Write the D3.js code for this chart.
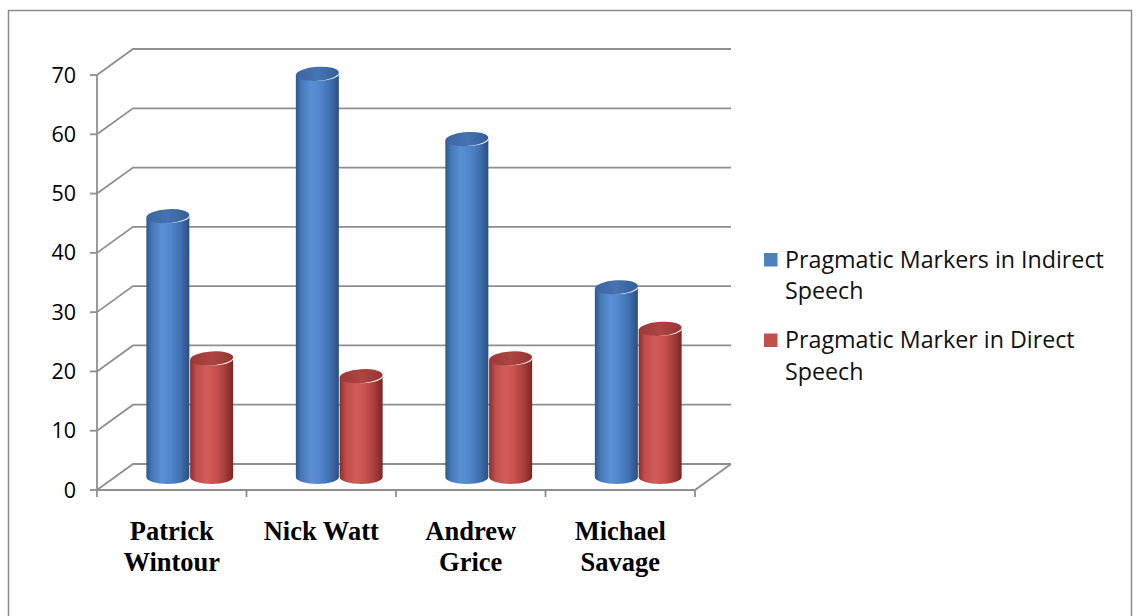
<!DOCTYPE html>
<html><head><meta charset="utf-8">
<script src="https://cdn.jsdelivr.net/npm/d3@7"></script>
<style>html,body{margin:0;padding:0;background:#fff;}</style>
</head><body>
<svg id="chart" width="1139" height="616"></svg>
<script>
const categories = [["Patrick","Wintour"],["Nick Watt"],["Andrew","Grice"],["Michael","Savage"]];
const seriesNames = ["Pragmatic Markers in Indirect Speech","Pragmatic Marker in Direct Speech"];
const legendLines = [["Pragmatic Markers in Indirect","Speech"],["Pragmatic Marker in Direct","Speech"]];
const indirectValues = [44, 68, 57, 32];
const directValues = [20, 17, 20, 25];
const yTicks = [0,10,20,30,40,50,60,70];

(function(){
const svg = d3.select("#chart");
const plotLeft = 97, plotRight = 695, plotBottom = 490, plotTop = 75;
const depth = {dx: 36, dy: -26};
const f = 0.5;
const gridColor = "#8f8f8f";
const sansFont = "'Open Sans', 'Noto Sans', sans-serif";

svg.append("rect").attr("x",8.5).attr("y",10.5).attr("width",1123).attr("height",640)
  .attr("fill","none").attr("stroke","#8a8a8a").attr("stroke-width",1.5);

const y = d3.scaleLinear().domain([0,70]).range([plotBottom, plotTop]);
const keys = categories.map(c => c.join(" "));
const x = d3.scaleBand().domain(keys).range([plotLeft, plotRight]);
const xs = d3.scaleBand().domain(seriesNames).range([x.bandwidth()*0.207, x.bandwidth()*0.793]);

const g = svg.append("g");
yTicks.forEach(v => {
  const yy = y(v);
  g.append("path")
    .attr("d", `M${plotLeft},${yy} L${plotLeft+depth.dx},${yy+depth.dy} L${plotRight+depth.dx},${yy+depth.dy}`)
    .attr("fill","none").attr("stroke",gridColor).attr("stroke-width",1.8);
  g.append("line").attr("x1",plotLeft-7).attr("x2",plotLeft).attr("y1",yy).attr("y2",yy)
    .attr("stroke",gridColor).attr("stroke-width",1.8);
  g.append("text").attr("x",76).attr("y",yy+7.5).attr("text-anchor","end")
    .attr("font-family",sansFont).attr("font-size",21.5).attr("fill","#000")
    .text(v);
});
g.append("line").attr("x1",plotLeft).attr("x2",plotLeft).attr("y1",y(0)).attr("y2",y(70))
  .attr("stroke",gridColor).attr("stroke-width",1.8);
g.append("path")
  .attr("d", `M${plotLeft},${plotBottom} L${plotRight},${plotBottom} L${plotRight+depth.dx},${plotBottom+depth.dy}`)
  .attr("fill","none").attr("stroke",gridColor).attr("stroke-width",1.8);
const tickXs = keys.map(k => x(k)).concat([plotRight]);
tickXs.forEach(tx => {
  g.append("line").attr("x1",tx).attr("x2",tx).attr("y1",plotBottom).attr("y2",plotBottom+7)
    .attr("stroke",gridColor).attr("stroke-width",1.8);
});

const defs = svg.append("defs");
function grad(id, stops){
  const lg = defs.append("linearGradient").attr("id",id).attr("x1","0%").attr("x2","100%").attr("y1","0%").attr("y2","0%");
  stops.forEach(s => lg.append("stop").attr("offset",s[0]).attr("stop-color",s[1]));
}
grad("blueBody", [["0%","#2d5788"],["12%","#4477b8"],["35%","#5a8fd4"],["55%","#5287cd"],["80%","#3f6fae"],["100%","#2b4f7e"]]);
grad("redBody", [["0%","#8a2e2c"],["14%","#c04d4a"],["38%","#d35d5a"],["58%","#c9524f"],["82%","#a53c3a"],["100%","#7a2725"]]);
grad("blueTop", [["0%","#3a65a0"],["50%","#4674b2"],["100%","#355e96"]]);
grad("redTop", [["0%","#9c3937"],["50%","#ad4543"],["100%","#973533"]]);

const ox = depth.dx*f, oy = depth.dy*f;
const rx = 21.5, ry = 7;
const seriesData = [
  {name: seriesNames[0], values: indirectValues, body:"url(#blueBody)", cap:"url(#blueTop)"},
  {name: seriesNames[1], values: directValues, body:"url(#redBody)", cap:"url(#redTop)"}
];
const bars = [];
seriesData.forEach(s => s.values.forEach((v,i) => bars.push({s, v, k: keys[i]})));
const cxOf = d => x(d.k) + xs(d.s.name) + xs.bandwidth()/2 + ox;
const cyl = g.selectAll("g.cyl").data(bars).join("g").attr("class","cyl");
cyl.append("path")
  .attr("d", d => {
    const cx = cxOf(d);
    const yb = y(0) + oy, yt = y(d.v) + oy;
    return `M${cx-rx},${yt} L${cx-rx},${yb} A${rx},${ry} 0 0 0 ${cx+rx},${yb} L${cx+rx},${yt} A${rx},${ry} 0 0 1 ${cx-rx},${yt} Z`;
  })
  .attr("fill", d => d.s.body);
cyl.append("ellipse")
  .attr("cx", cxOf)
  .attr("cy", d => y(d.v) + oy)
  .attr("rx", rx).attr("ry", ry)
  .attr("transform", d => `rotate(-4 ${cxOf(d)} ${y(d.v)+oy})`)
  .attr("fill", d => d.s.cap);

categories.forEach((lines,i) => {
  const cx = x(keys[i]) + x.bandwidth()/2;
  const t = svg.append("text").attr("text-anchor","middle")
    .attr("font-family","'Liberation Serif','Times New Roman',serif").attr("font-weight","bold")
    .attr("font-size",26.5).attr("fill","#000");
  lines.forEach((ln,j) => t.append("tspan").attr("x",cx).attr("y",540 + j*31).text(ln));
});

const legColors = ["#4f81bd","#c0504d"];
let legSize = 21;
legendLines.forEach((lines,i) => {
  const y0 = 253 + i*80.5;
  svg.append("rect").attr("x",764).attr("y",y0).attr("width",13.5).attr("height",13.5).attr("fill",legColors[i]);
  const t = svg.append("text").attr("class","leg").attr("font-family",sansFont).attr("font-size",legSize).attr("fill","#111");
  lines.forEach((ln,j) => t.append("tspan").attr("x",785).attr("y",y0+14.5+j*31.5).text(ln));
});
const firstSpan = svg.select("text.leg tspan").node();
const w = firstSpan.getComputedTextLength();
if (w > 0) {
  const s = Math.max(17, Math.min(24, legSize * 319 / w));
  svg.selectAll("text.leg").attr("font-size", s);
}
})();
</script>
</body></html>
